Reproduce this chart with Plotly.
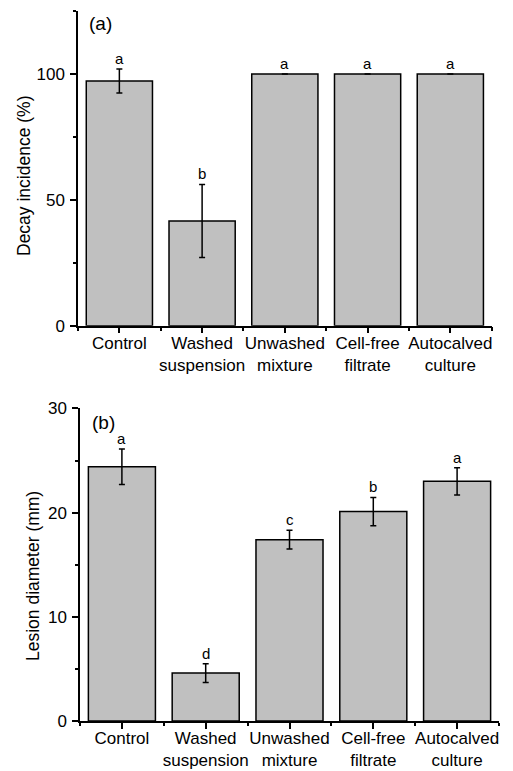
import plotly.graph_objects as go

categories = ["Control", "Washed<br>suspension", "Unwashed<br>mixture", "Cell-free<br>filtrate", "Autocalved<br>culture"]

decay_values = [97.2, 41.6, 100, 100, 100]
decay_errors = [4.8, 14.5, None, None, None]
decay_letters = ["a", "b", "a", "a", "a"]

lesion_values = [24.4, 4.6, 17.4, 20.1, 23.0]
lesion_errors = [1.7, 0.9, 0.9, 1.35, 1.3]
lesion_letters = ["a", "d", "c", "b", "a"]

W, H = 513, 771
FONT = "Liberation Sans, Arial, sans-serif"
idx = list(range(len(categories)))

def px_x(p):
    return p / W

def px_y(p):
    return 1 - p / H

fig = go.Figure()

bar_style = dict(marker=dict(color="#c0c0c0", line=dict(color="black", width=1.5)), width=0.8, showlegend=False)

fig.add_trace(go.Bar(x=idx, y=decay_values, xaxis="x", yaxis="y",
                     error_y=dict(type="data", array=decay_errors, color="black", thickness=1.5, width=3),
                     **bar_style))
fig.add_trace(go.Bar(x=idx, y=lesion_values, xaxis="x2", yaxis="y2",
                     error_y=dict(type="data", array=lesion_errors, color="black", thickness=1.5, width=3),
                     **bar_style))

xcommon = dict(range=[-0.5, 4.5], tickmode="array", tickvals=idx, ticktext=categories, tickangle=0,
               ticks="outside", ticklen=6, tickwidth=1.5, tickcolor="black",
               minor=dict(tickmode="array", tickvals=[-0.5, 0.5, 1.5, 2.5, 3.5, 4.5], ticks="outside",
                          ticklen=3.5, tickwidth=1.5, tickcolor="black"),
               showline=True, linecolor="black", linewidth=1.5, showgrid=False, zeroline=False,
               tickfont=dict(family=FONT, size=17, color="black"), fixedrange=True, ticklabelstandoff=-5,
               automargin=False)
ycommon = dict(ticks="outside", ticklen=6, tickwidth=1.5, tickcolor="black",
               showline=True, linecolor="black", linewidth=1.5, showgrid=False, zeroline=False,
               tickfont=dict(family=FONT, size=17, color="black"), ticklabelstandoff=2, automargin=False)

fig.update_layout(
    width=W, height=H, margin=dict(l=0, r=0, t=0, b=0, autoexpand=False),
    paper_bgcolor="white", plot_bgcolor="white",
    font=dict(family=FONT, size=17, color="black"),
    xaxis=dict(domain=[px_x(78), px_x(491.7)], anchor="y", **xcommon),
    yaxis=dict(domain=[px_y(325.7), px_y(11)], anchor="x", range=[0, 125],
               tickmode="array", tickvals=[0, 50, 100],
               minor=dict(tickmode="array", tickvals=[25, 75, 125], ticks="outside", ticklen=3.5,
                          tickwidth=1.5, tickcolor="black"),
               **ycommon),
    xaxis2=dict(domain=[px_x(80), px_x(499)], anchor="y2", **xcommon),
    yaxis2=dict(domain=[px_y(721), px_y(408.4)], anchor="x2", range=[0, 30],
                tickmode="array", tickvals=[0, 10, 20, 30],
                minor=dict(tickmode="array", tickvals=[5, 15, 25], ticks="outside", ticklen=3.5,
                           tickwidth=1.5, tickcolor="black"),
                **ycommon),
)

annotations = []
for i, (v, e, t) in enumerate(zip(decay_values, decay_errors, decay_letters)):
    top = v + (e or 0)
    annotations.append(dict(x=i, y=top, xref="x", yref="y", text=t, showarrow=False,
                            yanchor="bottom", yshift=0, font=dict(family=FONT, size=15, color="black")))
for i, (v, e, t) in enumerate(zip(lesion_values, lesion_errors, lesion_letters)):
    top = v + (e or 0)
    annotations.append(dict(x=i, y=top, xref="x2", yref="y2", text=t, showarrow=False,
                            yanchor="bottom", yshift=0, font=dict(family=FONT, size=15, color="black")))

annotations.append(dict(x=px_x(87), y=px_y(23), xref="paper", yref="paper", text="(a)", showarrow=False,
                        xanchor="left", yanchor="middle", font=dict(family=FONT, size=19, color="black")))
annotations.append(dict(x=px_x(90), y=px_y(422), xref="paper", yref="paper", text="(b)", showarrow=False,
                        xanchor="left", yanchor="middle", font=dict(family=FONT, size=19, color="black")))

annotations.append(dict(x=px_x(24), y=px_y(176), xref="paper", yref="paper", text="Decay incidence (%)",
                        showarrow=False, textangle=-90, xanchor="center", yanchor="middle",
                        font=dict(family=FONT, size=17.5, color="black")))
annotations.append(dict(x=px_x(33), y=px_y(576), xref="paper", yref="paper", text="Lesion diameter (mm)",
                        showarrow=False, textangle=-90, xanchor="center", yanchor="middle",
                        font=dict(family=FONT, size=17.5, color="black")))

fig.update_layout(annotations=annotations)

fig.write_html("out.html")
